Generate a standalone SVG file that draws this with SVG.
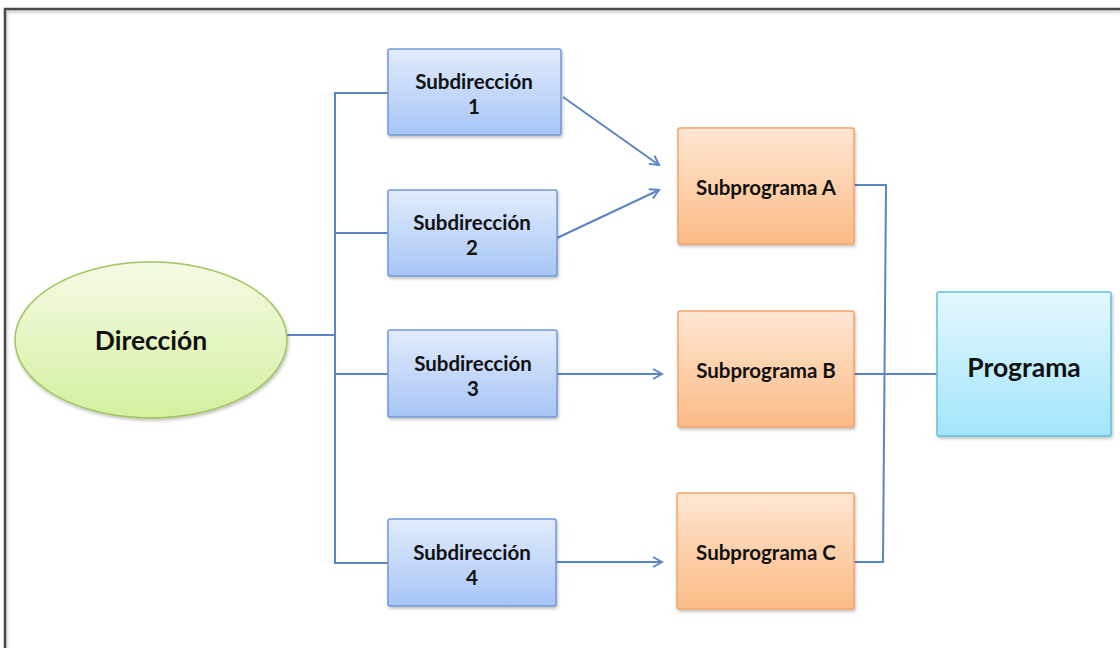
<svg xmlns="http://www.w3.org/2000/svg" width="1120" height="648" viewBox="0 0 1120 648">
  <style>
    .lbl { font-family: Lato, "Open Sans", "Liberation Sans", sans-serif; font-weight: bold; fill: #111; text-anchor: middle; }
    .sm { font-size: 20.5px; }
    .lg { font-size: 26.5px; }
    .conn { fill: none; stroke: #5b86c4; stroke-width: 2; }
    .sub { fill: url(#gBlue); stroke: #7098d2; stroke-width: 1.5; filter: url(#shadow); }
    .prg { fill: url(#gOrange); stroke: #f3a46a; stroke-width: 1.5; filter: url(#shadow); }
  </style>
  <defs>
    <linearGradient id="gBlue" x1="0" y1="0" x2="0" y2="1">
      <stop offset="0" stop-color="#e2ecfd"/>
      <stop offset="1" stop-color="#a6c5f6"/>
    </linearGradient>
    <linearGradient id="gOrange" x1="0" y1="0" x2="0" y2="1">
      <stop offset="0" stop-color="#fee6d2"/>
      <stop offset="1" stop-color="#fbbb86"/>
    </linearGradient>
    <linearGradient id="gGreen" x1="0" y1="0" x2="0" y2="1">
      <stop offset="0" stop-color="#f4fbe4"/>
      <stop offset="1" stop-color="#d5f0a0"/>
    </linearGradient>
    <linearGradient id="gCyan" x1="0" y1="0" x2="0" y2="1">
      <stop offset="0" stop-color="#e4f8fe"/>
      <stop offset="1" stop-color="#a2e5fb"/>
    </linearGradient>
    <filter id="shadow" x="-10%" y="-10%" width="125%" height="130%">
      <feDropShadow dx="1" dy="2" stdDeviation="1.5" flood-color="#000" flood-opacity="0.25"/>
    </filter>
    <marker id="arr" markerWidth="12" markerHeight="12" refX="10" refY="6" orient="auto" markerUnits="userSpaceOnUse">
      <path d="M1,1 L10,6 L1,11" fill="none" stroke="#5b86c4" stroke-width="2"/>
    </marker>
  </defs>

  <rect width="1120" height="648" fill="#fff"/>
  <!-- outer frame -->
  <path d="M5,648 L5,9 L1120,9" fill="none" stroke="#4a4a4a" stroke-width="2.5" filter="url(#shadow)"/>

  <g id="connectors">
    <path class="conn" d="M287,335 L335,335"/>
    <path class="conn" d="M388,93 L335,93 L335,563 L388,563"/>
    <path class="conn" d="M335,233 L388,233"/>
    <path class="conn" d="M335,374 L388,374"/>
    <path class="conn" marker-end="url(#arr)" d="M563,97 L659,165"/>
    <path class="conn" marker-end="url(#arr)" d="M557,238 L659,190"/>
    <path class="conn" marker-end="url(#arr)" d="M557,374 L662,374"/>
    <path class="conn" marker-end="url(#arr)" d="M557,562 L662,562"/>
    <path class="conn" d="M854,185 L886,185 L883,562 L854,562"/>
    <path class="conn" d="M854,374 L937,374"/>
  </g>

  <g id="direccion">
    <ellipse cx="151" cy="340" rx="136" ry="78" fill="url(#gGreen)" stroke="#9fc65e" stroke-width="1.5" filter="url(#shadow)"/>
    <text class="lbl lg" x="151" y="350">Dirección</text>
  </g>

  <g id="sub1">
    <rect class="sub" x="388" y="49" width="173" height="86" rx="2"/>
    <text class="lbl sm" x="474" y="89">Subdirección</text>
    <text class="lbl sm" x="474" y="114">1</text>
  </g>
  <g id="sub2">
    <rect class="sub" x="388" y="190" width="169" height="86" rx="2"/>
    <text class="lbl sm" x="472" y="230">Subdirección</text>
    <text class="lbl sm" x="472" y="255">2</text>
  </g>
  <g id="sub3">
    <rect class="sub" x="388" y="330" width="169" height="87" rx="2"/>
    <text class="lbl sm" x="473" y="371">Subdirección</text>
    <text class="lbl sm" x="473" y="396">3</text>
  </g>
  <g id="sub4">
    <rect class="sub" x="388" y="519" width="168" height="87" rx="2"/>
    <text class="lbl sm" x="472" y="560">Subdirección</text>
    <text class="lbl sm" x="472" y="585">4</text>
  </g>

  <g id="subprogramaA">
    <rect class="prg" x="678" y="128" width="176" height="116" rx="2"/>
    <text class="lbl sm" x="766" y="195">Subprograma A</text>
  </g>
  <g id="subprogramaB">
    <rect class="prg" x="678" y="311" width="176" height="116" rx="2"/>
    <text class="lbl sm" x="766" y="378">Subprograma B</text>
  </g>
  <g id="subprogramaC">
    <rect class="prg" x="677" y="493" width="177" height="116" rx="2"/>
    <text class="lbl sm" x="766" y="560">Subprograma C</text>
  </g>

  <g id="programa">
    <rect x="937" y="292" width="174" height="144" rx="2" fill="url(#gCyan)" stroke="#64bfd9" stroke-width="1.5" filter="url(#shadow)"/>
    <text class="lbl lg" x="1024" y="377">Programa</text>
  </g>
</svg>
